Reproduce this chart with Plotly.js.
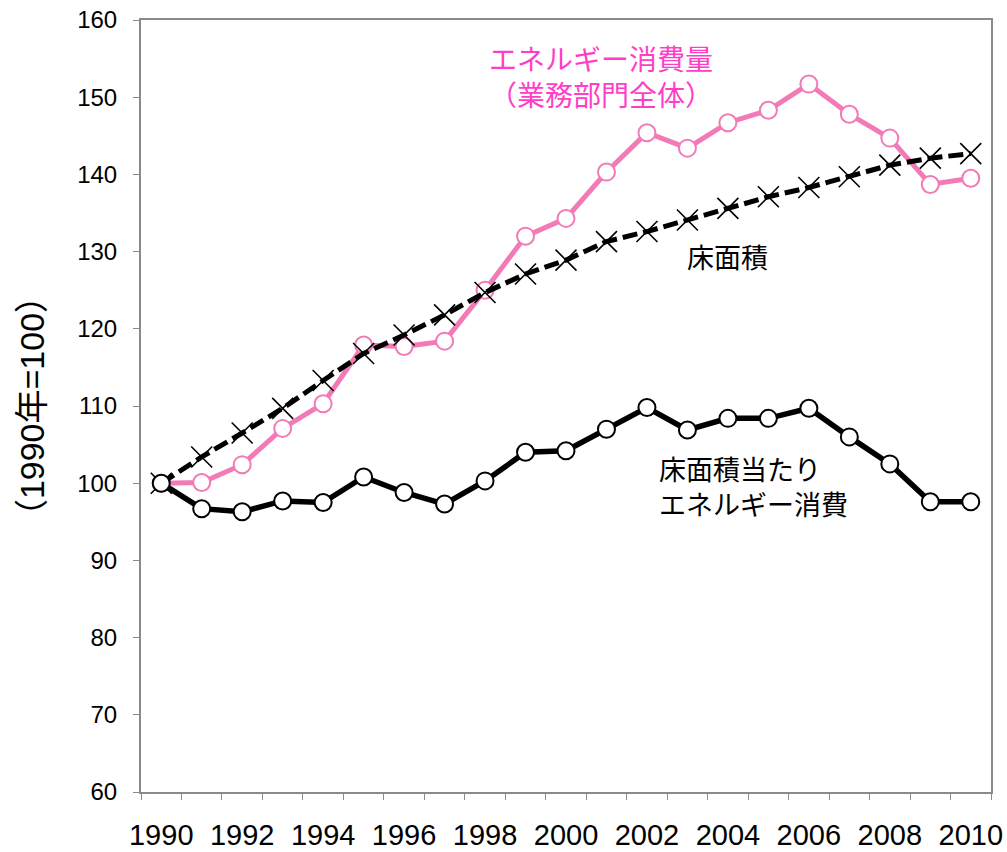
<!DOCTYPE html>
<html>
<head>
<meta charset="utf-8">
<script src="https://cdn.plot.ly/plotly-3.0.1.min.js"></script>
<style>html,body{margin:0;padding:0;background:#fff;}#chart{width:1007px;height:852px;}</style>
</head>
<body>
<div id="chart"></div>
<script>
const years = [1990,1991,1992,1993,1994,1995,1996,1997,1998,1999,2000,2001,2002,2003,2004,2005,2006,2007,2008,2009,2010];
const energyTotal = [100,100.1,102.4,107.1,110.3,117.9,117.7,118.4,125.0,132.0,134.3,140.3,145.4,143.4,146.7,148.3,151.7,147.8,144.7,138.7,139.5];
const floorArea = [100,103.4,106.5,109.7,113.3,116.8,119.2,121.8,124.7,127.1,128.9,131.3,132.6,134.1,135.6,137.1,138.3,139.7,141.2,142.1,142.7];
const energyPerFloor = [100,96.7,96.3,97.7,97.5,100.8,98.8,97.3,100.3,104.0,104.2,107.0,109.8,106.9,108.4,108.4,109.7,106.0,102.5,97.6,97.6];
const xTickLabels = ['1990','1992','1994','1996','1998','2000','2002','2004','2006','2008','2010'];
const CJK = "<span style=\"font-family:'Noto Sans CJK JP'\">";
const yTitle = CJK + '（</span>1990' + CJK + '年</span>=100' + CJK + '）</span>';
const labelTotal = 'エネルギー消費量<br>（業務部門全体）';
const labelFloor = '床面積';
const labelPerFloor = '床面積当たり<br>エネルギー消費';

const FONT = 'Liberation Sans, Arial, Noto Sans CJK JP, sans-serif';
const JFONT = 'Noto Sans CJK JP, sans-serif';
const AX = '#8a8a8a';

const traces = [
  {
    x: years, y: energyTotal, type: 'scatter', mode: 'lines+markers', name: 'エネルギー消費量',
    line: {color: '#f27ab6', width: 5},
    marker: {symbol: 'circle', size: 17, color: '#ffffff', line: {color: '#f27ab6', width: 2}}
  },
  {
    x: years, y: floorArea, type: 'scatter', mode: 'lines+markers', name: '床面積',
    line: {color: '#000000', width: 5, dash: '15px,6px'},
    marker: {symbol: 'x-thin-open', size: 21, color: '#000000', line: {color: '#000000', width: 1.6}}
  },
  {
    x: years, y: energyPerFloor, type: 'scatter', mode: 'lines+markers', name: '床面積当たりエネルギー消費',
    line: {color: '#000000', width: 5.5},
    marker: {symbol: 'circle', size: 17, color: '#ffffff', line: {color: '#000000', width: 2}}
  }
];

const layout = {
  width: 1007, height: 852,
  margin: {l: 141, r: 16, t: 20, b: 60},
  paper_bgcolor: '#ffffff', plot_bgcolor: '#ffffff',
  showlegend: false,
  font: {family: FONT, color: '#000000'},
  xaxis: {
    range: [1989.5, 2010.5],
    tickvals: xTickLabels.map(Number), ticktext: xTickLabels,
    ticks: '', showgrid: false, zeroline: false,
    showline: true, linecolor: AX, linewidth: 2, mirror: true,
    tickfont: {size: 29, family: FONT, color: '#000000'},
    ticklabelstandoff: 16,
    automargin: false,
    minor: {tick0: 1989.5, dtick: 1, ticks: 'outside', ticklen: 6, tickcolor: AX, tickwidth: 1, showgrid: false}
  },
  yaxis: {
    range: [60, 160], dtick: 10, tick0: 60,
    ticks: 'outside', ticklen: 6, tickcolor: AX, tickwidth: 1,
    showgrid: false, zeroline: false,
    showline: true, linecolor: AX, linewidth: 2, mirror: true,
    tickfont: {size: 24, family: FONT, color: '#000000'},
    ticklabelstandoff: 11,
    automargin: false,
    title: {text: yTitle, font: {size: 34, family: FONT, color: '#000000'}, standoff: 22}
  },
  annotations: [
    {x: 1998.05, y: 152.7, xref: 'x', yref: 'y', xanchor: 'left', yanchor: 'middle', align: 'left',
     text: labelTotal, showarrow: false, font: {size: 28, family: JFONT, color: '#ff3ec8'}},
    {x: 2002.95, y: 129.4, xref: 'x', yref: 'y', xanchor: 'left', yanchor: 'middle', align: 'left',
     text: labelFloor, showarrow: false, font: {size: 27, family: JFONT, color: '#000000'}},
    {x: 2002.25, y: 99.7, xref: 'x', yref: 'y', xanchor: 'left', yanchor: 'middle', align: 'left',
     text: labelPerFloor, showarrow: false, font: {size: 27, family: JFONT, color: '#000000'}}
  ]
};

Plotly.newPlot('chart', traces, layout, {staticPlot: true, displayModeBar: false});
</script>
</body>
</html>
